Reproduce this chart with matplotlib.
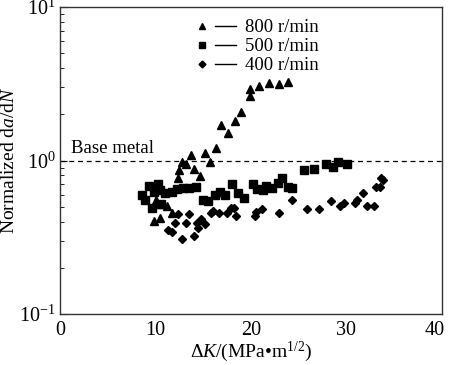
import matplotlib
matplotlib.use("Agg")
import matplotlib.pyplot as plt
import matplotlib.transforms as mtransforms
from matplotlib.lines import Line2D
from matplotlib.legend_handler import HandlerTuple
from matplotlib.ticker import LogLocator, NullFormatter

plt.rcParams['font.family'] = ['Liberation Serif', 'DejaVu Serif']
plt.rcParams['mathtext.fontset'] = 'custom'
plt.rcParams['mathtext.rm'] = 'Liberation Serif'
plt.rcParams['mathtext.it'] = 'Liberation Serif:italic'

# --- data ---
dk_800 = [9.84, 10.47, 10.05, 10.58, 11.2, 11.73, 12.36, 12.46, 12.77, 13.19, 13.72,
          14.03, 14.66, 15.18, 15.71, 16.34, 16.86, 17.59, 18.32, 18.95, 19.9, 19.9,
          20.84, 21.88, 22.93, 23.87]
rate_800 = [0.406, 0.419, 0.557, 0.517, 0.509, 0.458, 0.775, 0.861, 0.985, 0.956, 1.094,
            0.874, 0.798, 1.127, 0.985, 1.215, 1.716, 1.50, 1.822, 2.085, 2.65, 2.944,
            3.08, 3.22, 3.17, 3.27]

dk_500 = [8.59, 8.90, 9.32, 10.26, 9.84, 10.47, 10.99, 11.73, 12.25, 12.88, 13.51, 14.24,
          14.97, 15.50, 16.23, 16.75, 17.28, 18.01, 18.64, 19.27, 20.21, 20.63, 21.26,
          21.57, 22.20, 22.83, 23.25, 23.87, 24.29, 25.55, 26.60, 27.85, 28.59, 29.11,
          30.05, 9.63, 10.58]
rate_500 = [0.600, 0.557, 0.687, 0.708, 0.628, 0.638, 0.610, 0.628, 0.657, 0.667, 0.667,
            0.677, 0.557, 0.541, 0.592, 0.619, 0.592, 0.708, 0.610, 0.574, 0.708, 0.657,
            0.647, 0.687, 0.667, 0.719, 0.775, 0.677, 0.667, 0.861, 0.874, 0.942, 0.914,
            0.985, 0.956, 0.487, 0.517]

dk_400 = [11.31, 11.73, 12.04, 12.36, 12.77, 13.19, 13.51, 14.03, 14.35, 14.45, 14.76,
          15.18, 15.81, 16.02, 16.65, 17.49, 17.91, 18.22, 18.43, 20.42, 20.52, 21.15,
          22.93, 24.29, 25.86, 27.12, 28.38, 29.32, 29.74, 30.89, 31.10, 31.73, 32.15,
          32.88, 33.09, 33.51, 33.61, 33.82]
rate_400 = [0.350, 0.340, 0.389, 0.445, 0.306, 0.389, 0.445, 0.320, 0.394, 0.366, 0.413,
            0.383, 0.458, 0.472, 0.452, 0.458, 0.494, 0.487, 0.432, 0.432, 0.465, 0.480,
            0.458, 0.549, 0.480, 0.480, 0.541, 0.509, 0.532, 0.532, 0.557, 0.610, 0.509,
            0.509, 0.677, 0.677, 0.775, 0.741]

labels = ['800 r/min', '500 r/min', '400 r/min']

fig = plt.figure(figsize=(4.5, 3.65), dpi=100)
ax = fig.add_axes([0.1333, 0.1397, 0.8489, 0.8411])

ax.plot(dk_800, rate_800, '^', color='black', ms=6.2, ls='none')
ax.plot(dk_500, rate_500, 's', color='black', ms=5.3, ls='none')
ax.plot(dk_400, rate_400, 'D', color='black', ms=4.0, ls='none')

ax.axhline(1.0, color='black', ls=(0, (4, 3)), lw=0.9)
ax.text(1.2, 1.05, 'Base metal', fontsize=13.5, ha='left', va='bottom')

ax.set_yscale('log')
ax.set_xlim(0, 40)
ax.set_ylim(0.1, 10)
ax.set_xticks([0, 10, 20, 30, 40])
ax.yaxis.set_minor_locator(LogLocator(base=10, subs=range(2, 10)))
ax.yaxis.set_minor_formatter(NullFormatter())
ax.tick_params(axis='both', which='both', direction='in', labelsize=14.5,
               top=False, right=False)
ax.tick_params(axis='y', which='major', length=5, pad=3)
ax.tick_params(axis='y', which='minor', length=3)
ax.tick_params(axis='x', which='major', length=0, pad=5)
for s in ax.spines.values():
    s.set_linewidth(1.0)
    s.set_color('#333333')

# nudge the last x tick label inside the figure, as in the original
last = ax.get_xticklabels()[-1]
last.set_transform(last.get_transform() +
                   mtransforms.ScaledTranslation(-5 / 72, 0, fig.dpi_scale_trans))

ax.set_xlabel('Δ$K$/(MPa•m$^{1/2}$)', fontsize=14, labelpad=0)
ax.set_ylabel('Normalized d$a$/d$N$', fontsize=14, labelpad=1)

handles = []
for m, ms in [('^', 5), ('s', 5), ('D', 3.5)]:
    mk = Line2D([], [], marker=m, color='black', ms=ms, ls='none')
    ln = Line2D([], [], color='black', lw=1.0)
    handles.append((mk, ln))
ax.legend(handles, labels, handler_map={tuple: HandlerTuple(ndivide=2, pad=0.1)},
          loc='upper left', bbox_to_anchor=(0.305, 1.01), frameon=False,
          fontsize=13.5, handlelength=2.4, handletextpad=0.45, labelspacing=0.1,
          borderpad=0.3)

fig.savefig('out.png', dpi=100)
